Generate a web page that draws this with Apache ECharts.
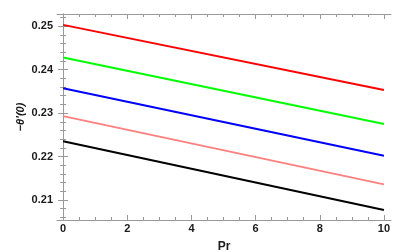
<!DOCTYPE html>
<html><head><meta charset="utf-8">
<script src="https://cdn.jsdelivr.net/npm/echarts@6/dist/echarts.min.js"></script>
<style>html,body{margin:0;padding:0;background:#fff}#c{width:413px;height:252px}</style>
</head><body><div id="c"></div>
<script>
const xMajor = [0, 2, 4, 6, 8, 10];
const xMinor = [0.5, 1, 1.5, 2.5, 3, 3.5, 4.5, 5, 5.5, 6.5, 7, 7.5, 8.5, 9, 9.5];
const yMajor = [0.21, 0.22, 0.23, 0.24, 0.25];
const yMinor = [0.206, 0.208, 0.212, 0.214, 0.216, 0.218, 0.222, 0.224, 0.226, 0.228, 0.232, 0.234, 0.236, 0.238, 0.242, 0.244, 0.246, 0.248, 0.252];
const prValues = [0, 10];
const redVals = [0.2503, 0.2353];
const greenVals = [0.2428, 0.2275];
const blueVals = [0.2357, 0.2202];
const pinkVals = [0.2293, 0.2136];
const blackVals = [0.2235, 0.2077];
const seriesColors = ['#ff0000', '#00ff00', '#0000ff', '#ff8080', '#000000'];
const allVals = [redVals, greenVals, blueVals, pinkVals, blackVals];

const XMIN = -0.19, XMAX = 10.22, YMIN = 0.2054, YMAX = 0.2528;
const lineC = '#999999';
const fontB = {fontFamily: 'Liberation Sans, Arial, sans-serif', fontWeight: 'bold', fontSize: 11, color: '#1a1a1a'};

function xa(pos, ticks, len, showLine, labels, name) {
  return {
    type: 'value', position: pos, min: XMIN, max: XMAX,
    axisLine: {show: showLine, lineStyle: {color: lineC, width: 1}},
    axisTick: {show: true, inside: true, length: len, customValues: ticks, lineStyle: {color: lineC}},
    axisLabel: labels ? Object.assign({show: true, customValues: ticks, margin: 3, formatter: v => String(v)}, fontB) : {show: false},
    splitLine: {show: false},
    name: name || '', nameLocation: 'middle', nameGap: 21, nameMoveOverlap: false,
    nameTextStyle: Object.assign({}, fontB, {fontSize: 12})
  };
}
function ya(pos, ticks, len, showLine, labels, name) {
  return {
    type: 'value', position: pos, min: YMIN, max: YMAX,
    axisLine: {show: showLine, lineStyle: {color: lineC, width: 1}},
    axisTick: {show: true, inside: true, length: len, customValues: ticks, lineStyle: {color: lineC}},
    axisLabel: labels ? Object.assign({show: true, customValues: ticks, margin: 4, formatter: v => v.toFixed(2)}, fontB) : {show: false},
    splitLine: {show: false},
    name: name || '', nameLocation: 'middle', nameGap: 31, nameMoveOverlap: false,
    nameTextStyle: Object.assign({}, fontB, {fontSize: 11, fontStyle: 'italic'})
  };
}

const chart = echarts.init(document.getElementById('c'));
chart.setOption({
  backgroundColor: '#fff',
  animation: false,
  grid: {left: 57, top: 14, right: 22, bottom: 32, containLabel: false, outerBoundsMode: 'none'},
  xAxis: [
    xa('bottom', xMajor, 5, true, true, 'Pr'),
    xa('bottom', xMinor, 3, false, false),
    xa('top', xMajor, 5, true, false),
    xa('top', xMinor, 3, false, false)
  ],
  yAxis: [
    ya('left', yMajor, 5, true, true, '\u2212\u03B8\u2032(0)'),
    ya('left', yMinor, 3, false, false),
    ya('right', yMajor, 5, true, false),
    ya('right', yMinor, 3, false, false)
  ],
  series: allVals.map((vals, i) => ({
    type: 'line', xAxisIndex: 0, yAxisIndex: 0, showSymbol: false,
    data: prValues.map((p, j) => [p, vals[j]]),
    lineStyle: {color: seriesColors[i], width: 2},
    itemStyle: {color: seriesColors[i]}
  }))
});
</script></body></html>
